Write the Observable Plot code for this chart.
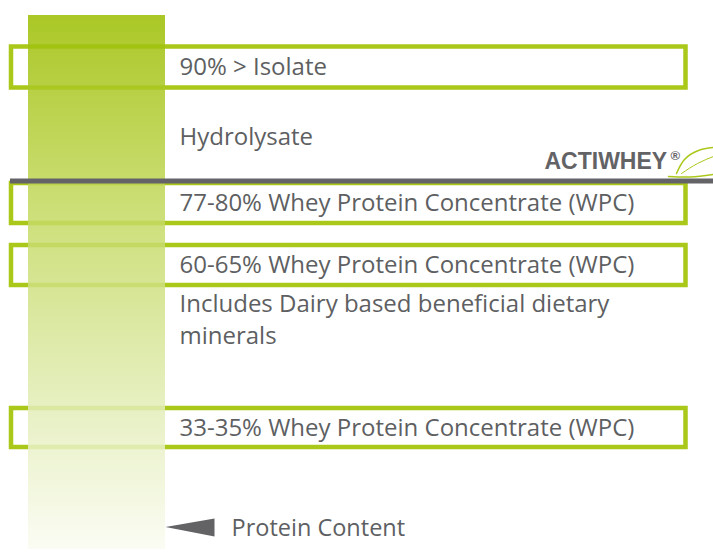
<!DOCTYPE html>
<html>
<head>
<meta charset="utf-8">
<script src="https://cdn.jsdelivr.net/npm/d3@7"></script>
<script src="https://cdn.jsdelivr.net/npm/@observablehq/plot@0.6"></script>
<style>
  html, body { margin: 0; padding: 0; background: #ffffff; }
  #chart svg { display: block; }
</style>
</head>
<body>
<div id="chart"></div>
<script>
// Layout units: a 713 x 552 diagram space (x to the right, y downward)
const tierLabels = [
  "90% > Isolate",
  "77-80% Whey Protein Concentrate (WPC)",
  "60-65% Whey Protein Concentrate (WPC)",
  "33-35% Whey Protein Concentrate (WPC)"
];
const tierTop = [46.5, 183, 245, 408];
const tierBottom = [87.5, 223, 285, 447];

const noteLabels = ["Hydrolysate", "Includes Dairy based beneficial dietary", "minerals"];
const noteY = [137, 304, 336];

const axisLabel = "Protein Content";
const brandLabel = "ACTIWHEY";

const boxX = [11, 685.5];
const barX = [28, 165];
const barY = [15, 549];
const dividerY = 180.5;
const dividerX = [10, 713];
const arrow = [{x: 165, y: 526.5}, {x: 214, y: 518}, {x: 214, y: 536}];
const leafUpper = [{x: 676, y: 173}, {x: 684, y: 159}, {x: 698, y: 150}, {x: 713, y: 147}];
const leafLower = [{x: 668, y: 176}, {x: 690, y: 176.5}, {x: 713, y: 174}];
const leafVein = [{x: 681, y: 173}, {x: 697, y: 163}, {x: 713, y: 156}];

const tiers = tierLabels.map((label, i) => ({label, y1: tierTop[i], y2: tierBottom[i], yc: (tierTop[i] + tierBottom[i]) / 2}));
const notes = noteLabels.map((label, i) => ({label, y: noteY[i]}));

const green = "#aac81a";
const gray = "#5e5f62";
const font = "'Open Sans', 'Noto Sans', sans-serif";

const defs = () => {
  const ns = "http://www.w3.org/2000/svg";
  const d = document.createElementNS(ns, "defs");
  const g = document.createElementNS(ns, "linearGradient");
  g.setAttribute("id", "barGrad");
  g.setAttribute("x1", "0"); g.setAttribute("y1", "0");
  g.setAttribute("x2", "0"); g.setAttribute("y2", "1");
  [["0", "#9bbe00"], ["0.35", "#c2d85c"], ["0.75", "#e4eebb"], ["1", "#fafcf2"]].forEach(([o, c]) => {
    const s = document.createElementNS(ns, "stop");
    s.setAttribute("offset", o); s.setAttribute("stop-color", c);
    g.appendChild(s);
  });
  d.appendChild(g);
  return d;
};

const chart = Plot.plot({
  width: 713,
  height: 552,
  margin: 0,
  x: {domain: [0, 713], range: [0, 713], axis: null},
  y: {domain: [0, 552], range: [0, 552], axis: null},
  style: {fontFamily: font, background: "#ffffff"},
  marks: [
    defs,
    Plot.rect(tiers, {x1: boxX[0], x2: boxX[1], y1: "y1", y2: "y2", fill: "none", stroke: green, strokeWidth: 4.5}),
    Plot.rect([{}], {x1: barX[0], x2: barX[1], y1: barY[0], y2: barY[1], fill: "url(#barGrad)", fillOpacity: 0.85}),
    Plot.ruleY([dividerY], {x1: dividerX[0], x2: dividerX[1], stroke: "#646468", strokeWidth: 5}),
    Plot.text(tiers, {x: 179, y: "yc", text: "label", textAnchor: "start", lineAnchor: "middle", fontSize: 24, fill: gray}),
    Plot.text(notes, {x: 179, y: "y", text: "label", textAnchor: "start", lineAnchor: "middle", fontSize: 24, fill: gray}),
    Plot.line(arrow, {x: "x", y: "y", fill: "#636366", stroke: "none"}),
    Plot.text([axisLabel], {x: 231, y: 528, textAnchor: "start", lineAnchor: "middle", fontSize: 23.5, fill: gray}),
    Plot.text([brandLabel], {x: 544, y: 161, textAnchor: "start", lineAnchor: "middle", fontSize: 23, fontWeight: "bold", fill: "#636366", fontFamily: "'Liberation Sans', Arial, sans-serif", letterSpacing: "-0.2px"}),
    Plot.text(["®"], {x: 670, y: 155, textAnchor: "start", lineAnchor: "middle", fontSize: 13, fontWeight: "bold", fill: "#636366", fontFamily: "'Liberation Sans', Arial, sans-serif"}),
    Plot.line(leafUpper, {x: "x", y: "y", curve: "natural", stroke: green, strokeWidth: 1.5}),
    Plot.line(leafLower, {x: "x", y: "y", curve: "natural", stroke: green, strokeWidth: 1.5}),
    Plot.line(leafVein, {x: "x", y: "y", curve: "natural", stroke: green, strokeWidth: 1})
  ]
});
document.getElementById("chart").appendChild(chart);
</script>
</body>
</html>
